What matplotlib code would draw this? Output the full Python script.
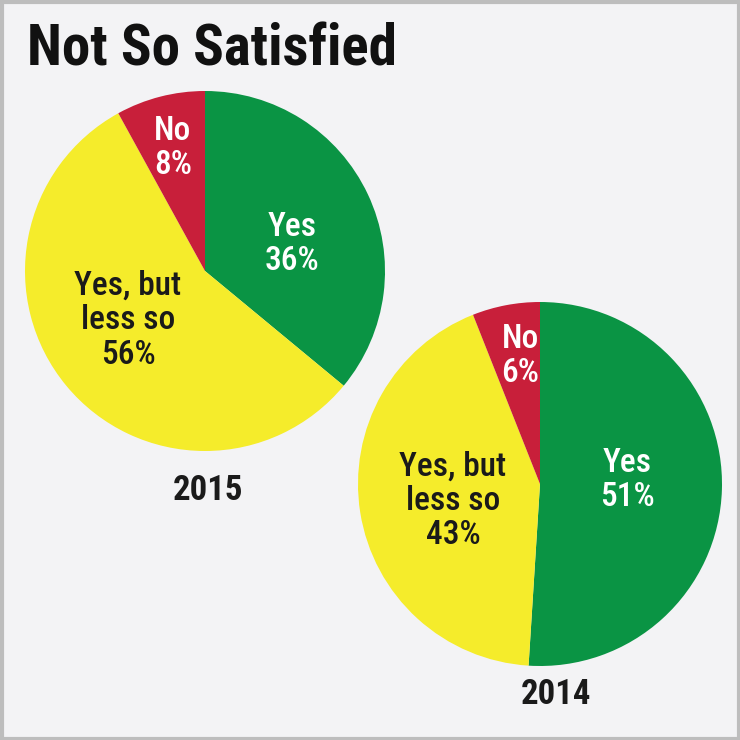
import matplotlib.pyplot as plt
from matplotlib.patches import Rectangle

plt.rcParams['font.family'] = ['Roboto Condensed', 'Roboto', 'DejaVu Sans']

years = ['2015', '2014']
categories = ['Yes', 'Yes, but\nless so', 'No']
values_2015 = [36, 56, 8]
values_2014 = [51, 43, 6]

colors = ['#0a9444', '#f5ec2b', '#c81f3a']
txt_colors = ['white', '#1a1a1a', 'white']
bg = '#f3f3f5'

fig = plt.figure(figsize=(7.4, 7.4), dpi=100)
fig.patch.set_facecolor(bg)
ax = fig.add_axes([0, 0, 1, 1])
ax.set_xlim(0, 740)
ax.set_ylim(740, 0)
ax.set_aspect('equal')
ax.axis('off')

ax.add_patch(Rectangle((1.5, 1.5), 737, 737, fill=False, ec='#bdbdbd', lw=3))

ax.text(27, 50, 'Not So Satisfied', fontsize=41, fontweight='bold',
        color='#111111', va='center', ha='left')

# pie centres / radius in pixel coords, label spots
pies = [
    (values_2015, (205, 271), 180,
     [(292, 244), (128, 320), (173, 148)], (208, 490)),
    (values_2014, (540, 484), 182,
     [(627, 480), (453, 501), (520, 356)], (556, 694)),
]

for (vals, c, r, spots, ypos), yr in zip(pies, years):
    # y axis is inverted, so counterclock=True draws clockwise on screen
    ax.pie(vals, colors=colors, center=c, radius=r, startangle=-90,
           counterclock=True, wedgeprops=dict(lw=0))
    for cat, v, (x, y), tc in zip(categories, vals, spots, txt_colors):
        ax.text(x, y, f'{cat}\n{v}%', ha='center', va='center',
                fontsize=24, fontweight='medium', color=tc, linespacing=1.1)
    ax.text(ypos[0], ypos[1], yr, ha='center', va='center',
            fontsize=25, fontweight='bold', color='#1a1a1a')

ax.set_xlim(0, 740)
ax.set_ylim(740, 0)

fig.savefig('out.png', dpi=100, facecolor=bg)
